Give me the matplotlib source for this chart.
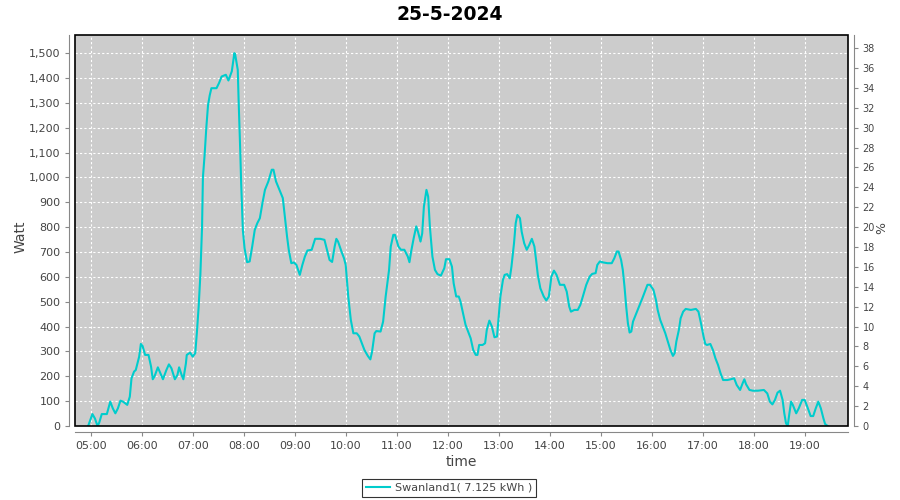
import matplotlib
matplotlib.use("Agg")
import matplotlib.pyplot as plt
from matplotlib.patches import Rectangle
from matplotlib.ticker import FuncFormatter, MultipleLocator

title = "25-5-2024"
series_name = "Swanland1( 7.125 kWh )"

times = [
    "04:57", "05:02", "05:05", "05:08", "05:10", "05:13", "05:19", "05:23", "05:26", "05:29",
    "05:32", "05:35", "05:38", "05:43", "05:46", "05:48", "05:51", "05:53", "05:57", "05:59",
    "06:01", "06:04", "06:08", "06:11", "06:13", "06:15", "06:19", "06:22", "06:25", "06:29",
    "06:32", "06:35", "06:39", "06:42", "06:44", "06:47", "06:49", "06:52", "06:53", "06:57",
    "07:00", "07:03", "07:05", "07:07", "07:09", "07:11", "07:12", "07:14", "07:16", "07:18",
    "07:20", "07:22", "07:28", "07:31", "07:34", "07:39", "07:42", "07:46", "07:49", "07:50",
    "07:53", "07:54", "07:56", "07:57", "07:59", "08:01", "08:04", "08:07", "08:10", "08:13",
    "08:16", "08:19", "08:22", "08:25", "08:29", "08:33", "08:35", "08:38", "08:42", "08:46",
    "08:48", "08:51", "08:53", "08:56", "08:59", "09:02", "09:06", "09:09", "09:12", "09:15",
    "09:20", "09:24", "09:30", "09:35", "09:38", "09:41", "09:44", "09:47", "09:49", "09:51",
    "09:55", "09:58", "10:00", "10:03", "10:06", "10:09", "10:13", "10:16", "10:19", "10:22",
    "10:26", "10:29", "10:31", "10:34", "10:36", "10:41", "10:44", "10:47", "10:51", "10:53",
    "10:56", "10:58", "11:02", "11:05", "11:09", "11:13", "11:15", "11:17", "11:20", "11:23",
    "11:25", "11:28", "11:30", "11:32", "11:35", "11:37", "11:39", "11:42", "11:45", "11:48",
    "11:52", "11:56", "11:58", "12:02", "12:05", "12:07", "12:10", "12:13", "12:15", "12:18",
    "12:21", "12:24", "12:27", "12:30", "12:33", "12:35", "12:37", "12:41", "12:44", "12:46",
    "12:49", "12:52", "12:55", "12:58", "13:00", "13:02", "13:05", "13:07", "13:10", "13:13",
    "13:15", "13:18", "13:20", "13:22", "13:25", "13:27", "13:30", "13:33", "13:36", "13:39",
    "13:42", "13:44", "13:46", "13:49", "13:53", "13:56", "13:59", "14:02", "14:05", "14:08",
    "14:12", "14:17", "14:20", "14:23", "14:25", "14:29", "14:33", "14:36", "14:39", "14:43",
    "14:47", "14:50", "14:54", "14:56", "14:59", "15:03", "15:08", "15:13", "15:16", "15:19",
    "15:21", "15:24", "15:26", "15:28", "15:30", "15:32", "15:34", "15:36", "15:38", "15:42",
    "15:45", "15:49", "15:52", "15:55", "15:58", "16:02", "16:05", "16:07", "16:10", "16:13",
    "16:16", "16:19", "16:22", "16:25", "16:27", "16:29", "16:32", "16:34", "16:37", "16:40",
    "16:46", "16:52", "16:55", "16:58", "17:01", "17:03", "17:05", "17:09", "17:12", "17:15",
    "17:18", "17:21", "17:24", "17:29", "17:33", "17:37", "17:40", "17:44", "17:47", "17:49",
    "17:51", "17:55", "17:59", "18:05", "18:12", "18:16", "18:19", "18:22", "18:25", "18:28",
    "18:31", "18:34", "18:36", "18:38", "18:40", "18:42", "18:44", "18:46", "18:50", "18:53",
    "18:57", "19:00", "19:03", "19:07", "19:10", "19:13", "19:16", "19:19", "19:22", "19:24",
    "19:27",
]

watts = [
    0, 48, 30, 0, 13, 48, 48, 98, 71, 51,
    71, 102, 98, 85, 118, 192, 219, 225, 279, 330,
    322, 286, 286, 239, 188, 199, 236, 212, 188, 225,
    248, 232, 188, 205, 236, 205, 188, 252, 286, 295,
    279, 293, 380, 480, 608, 802, 1000, 1090, 1200, 1290,
    1330, 1359, 1359, 1380, 1406, 1413, 1390, 1427, 1500, 1494,
    1433, 1312, 1098, 977, 789, 715, 659, 662, 722, 789,
    816, 836, 896, 950, 984, 1031, 1031, 984, 950, 917,
    856, 762, 709, 655, 658, 648, 608, 648, 682, 706,
    709, 753, 753, 749, 709, 668, 660, 722, 753, 742,
    702, 675, 648, 521, 427, 373, 373, 360, 333, 306,
    282, 268, 299, 373, 382, 380, 420, 521, 628, 722,
    769, 769, 722, 709, 709, 682, 659, 702, 756, 803,
    782, 742, 775, 883, 950, 923, 803, 682, 628, 611,
    605, 635, 671, 671, 641, 574, 521, 521, 501, 454,
    407, 380, 353, 306, 286, 286, 326, 326, 333, 387,
    424, 400, 357, 360, 440, 521, 588, 608, 611, 594,
    641, 735, 816, 849, 836, 782, 735, 709, 729, 753,
    722, 668, 608, 554, 521, 505, 521, 601, 625, 608,
    568, 568, 541, 480, 460, 467, 467, 487, 521, 568,
    601, 612, 615, 648, 662, 658, 655, 655, 675, 702,
    702, 668, 628, 561, 480, 413, 376, 380, 420, 454,
    480, 514, 541, 568, 568, 548, 507, 467, 427, 400,
    373, 340, 306, 282, 293, 340, 387, 433, 460, 471,
    467, 471, 460, 413, 360, 330, 326, 330, 306, 272,
    246, 212, 185, 185, 188, 192, 165, 145, 172, 188,
    168, 145, 142, 142, 145, 131, 98, 87, 105, 134,
    142, 105, 51, 11, 0, 51, 98, 85, 51, 71,
    105, 105, 78, 40, 40, 71, 98, 71, 31, 8,
    0,
]

x_tick_hours = list(range(5, 20))
x_tick_labels = ["%02d:00" % h for h in x_tick_hours]

def to_hours(t):
    h, m = t.split(":")
    return int(h) + int(m) / 60.0

xs = [to_hours(t) for t in times]

LINE = "#00CCCC"
TXT = "#444444"
AXC = "#888888"

fig = plt.figure(figsize=(9, 5), dpi=100)
ax = fig.add_axes([75 / 900, 1 - 426 / 500, (848 - 75) / 900, (426 - 35) / 500])
ax.set_facecolor("#cccccc")

ax.plot(xs, watts, color=LINE, lw=1.5, zorder=3, label=series_name)

ymax = 1573
ax.set_xlim(4.692, 19.849)
ax.set_ylim(0, ymax)

ax.set_xticks(x_tick_hours)
ax.set_xticklabels(x_tick_labels)
ax.yaxis.set_major_locator(MultipleLocator(100))
ax.yaxis.set_major_formatter(FuncFormatter(lambda v, p: "{:,}".format(int(round(v)))))

ax.grid(True, color="white", linestyle=(0, (2, 2)), linewidth=0.8, zorder=1)
ax.set_axisbelow(True)

for s in ["left", "bottom"]:
    ax.spines[s].set_position(("outward", 4))
    ax.spines[s].set_color(AXC)
ax.spines["top"].set_visible(False)
ax.spines["right"].set_visible(False)
ax.add_patch(Rectangle((0, 0), 1, 1, transform=ax.transAxes, fill=False,
                       edgecolor="black", lw=1.2, zorder=4, clip_on=False))

ax.tick_params(axis="both", colors=AXC, labelcolor=TXT, labelsize=8, length=3, width=0.8)

ax2 = ax.twinx()
ax2.set_ylim(0, ymax / 40.0)
ax2.yaxis.set_major_locator(MultipleLocator(2))
ax2.spines["right"].set_position(("outward", 4))
ax2.spines["right"].set_color(AXC)
for s in ["left", "top", "bottom"]:
    ax2.spines[s].set_visible(False)
ax2.tick_params(axis="y", colors=AXC, labelcolor=TXT, labelsize=7, length=3, width=0.8)
ax2.set_ylabel("%", color=TXT, fontsize=9)
ax2.yaxis.set_label_coords((875 - 75) / 773, (426 - 228) / 391)

ax.set_ylabel("Watt", color=TXT, fontsize=10)
ax.yaxis.set_label_coords((28 - 75) / 773, (426 - 237) / 391)
ax.set_xlabel("time", color=TXT, fontsize=10, labelpad=3)

fig.text(0.5, 1 - 15 / 500, title, ha="center", va="center", fontsize=13.5, fontweight="bold", color="black")

leg = fig.legend(loc="center", bbox_to_anchor=(449 / 900, 1 - 488 / 500), fontsize=8,
                 frameon=True, fancybox=False, handlelength=2.2, handletextpad=0.4,
                 borderpad=0.35, labelcolor=TXT)
leg.get_frame().set_edgecolor("black")
leg.get_frame().set_linewidth(0.8)

fig.savefig("out.png", dpi=100)
